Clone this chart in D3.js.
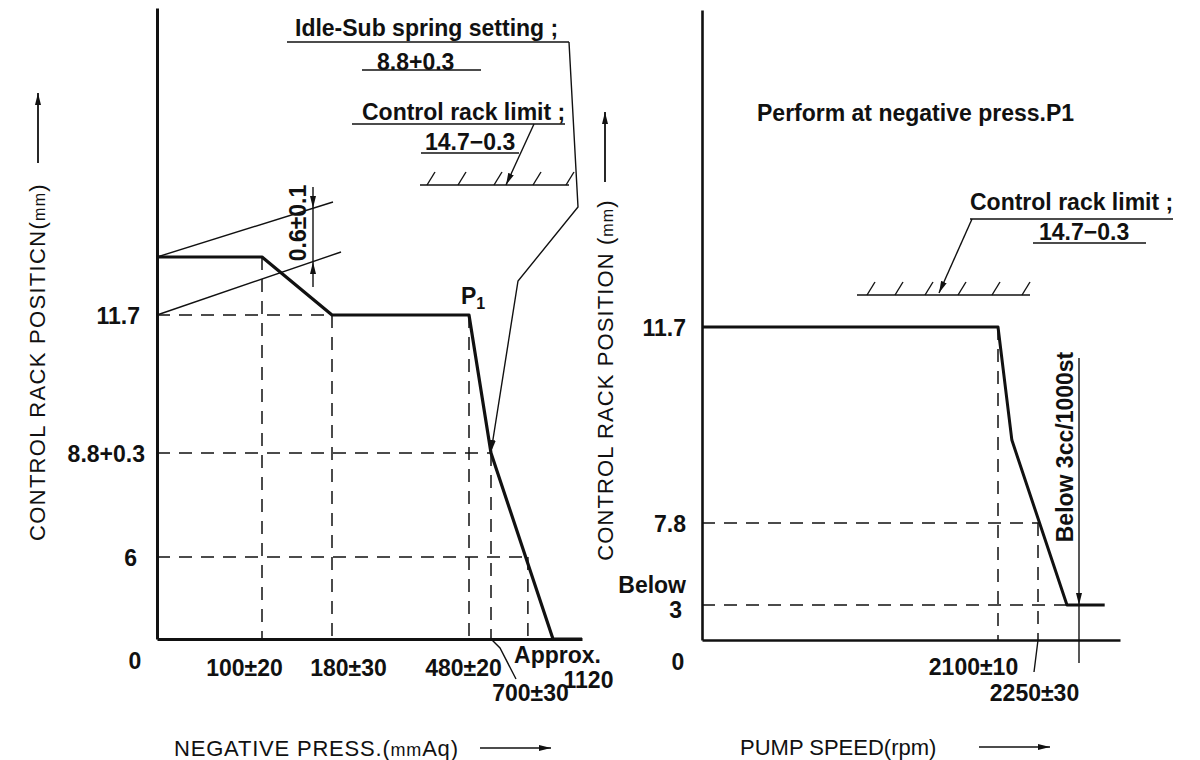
<!DOCTYPE html>
<html><head><meta charset="utf-8">
<script src="https://cdn.jsdelivr.net/npm/d3@7"></script>
<style>
html,body{margin:0;padding:0;background:#fff;}
svg{display:block;}
text{font-family:"Liberation Sans",Arial,sans-serif;fill:#111;}
.lbl{font-size:23px;font-weight:bold;}
.ttl{font-size:22px;}
</style></head><body>
<svg id="c" width="1200" height="760"></svg>
<script>
// ---------- DATA ----------
// Left chart: control rack position (mm) vs negative pressure (mmAq)
const leftX = [0, 100, 180, 480, 700, 1120, 1250];
const leftY = [12.3, 12.3, 11.7, 11.7, 8.8, 0, 0];
const leftXTicks = [100, 180, 480, 700, 1120];
const leftXTickLabels = ["100±20", "180±30", "480±20", "700±30", "Approx.|1120"];
const leftYTicks = [11.7, 8.8, 6];
const leftYTickLabels = ["11.7", "8.8+0.3", "6"];
const leftX6 = 950;          // pressure where rack reaches 6 mm
// Right chart: control rack position (mm) vs pump speed (rpm)
const rightX = [0, 2100, 2152, 2303, 2372];
const rightY = [11.7, 11.7, 9.45, 3, 3];
const rightXTicks = [2100, 2250];
const rightXTickLabels = ["2100±10", "2250±30"];
const rightYTicks = [11.7, 7.8, 3];
const rightYTickLabels = ["11.7", "7.8", "Below|3"];
const rightCutX = 2325;      // "Below 3cc/1000st" speed

// ---------- LAYOUT ----------
const svg = d3.select("#c");
const defs = svg.append("defs");
defs.append("marker").attr("id","ah").attr("viewBox","0 -4 12 8").attr("refX",12).attr("refY",0)
  .attr("markerWidth",12).attr("markerHeight",8).attr("markerUnits","userSpaceOnUse").attr("orient","auto")
  .append("path").attr("d","M0,-3L12,0L0,3Z").attr("fill","#111");

// schematic (non-proportional) axes as piecewise-linear scales
const xL = d3.scaleLinear().domain([0,100,180,480,700,1120,1250]).range([157,262,332,469,491,553,582]);
const yL = d3.scaleLinear().domain([0,6,8.8,11.7,12.3,17.6]).range([639,557,453,315,257,8]);
const xR = d3.scaleLinear().domain([0,2100,2250,2400]).range([702,998,1038,1120]);
const yR = d3.scaleLinear().domain([0,3,7.8,11.7,17]).range([640,605,523,327,10]);

function styleAxis(g, w){
  g.select(".domain").attr("stroke","#111").attr("stroke-width",w);
  g.selectAll(".tick line").remove();
  g.selectAll(".tick text").attr("class","lbl").attr("fill","#111");
}
function multi(textSel, parts, pos){
  textSel.text(null);
  parts.forEach((p,i)=>textSel.append("tspan").attr("x",pos[i][0]).attr("y",pos[i][1]).attr("dy","0.35em").text(p));
}

// ---- Left axes ----
const gLy = svg.append("g").attr("transform",`translate(${xL(0)},0)`)
  .call(d3.axisLeft(yL).tickValues(leftYTicks).tickFormat((d,i)=>leftYTickLabels[i]).tickSize(0).tickSizeOuter(0));
styleAxis(gLy,3);
const lyOff = [-17,-12,-20];
gLy.selectAll(".tick text").attr("x",(d,i)=>lyOff[i]).attr("dy","0.35em").attr("text-anchor","end");

const gLx = svg.append("g").attr("transform",`translate(0,${yL(0)})`)
  .call(d3.axisBottom(xL).tickValues(leftXTicks).tickFormat((d,i)=>leftXTickLabels[i]).tickSize(0).tickSizeOuter(0));
styleAxis(gLx,3);
const lxOff = [[-18,29],[16,29],[-6,29],[39,54]];
gLx.selectAll(".tick text").each(function(d,i){
  const t = d3.select(this).attr("text-anchor","middle");
  if(i<4){ t.attr("x",lxOff[i][0]).attr("y",lxOff[i][1]).attr("dy","0.35em"); }
  else { const p = leftXTickLabels[i].split("|"); multi(t,p,[[4,16],[35,41]]); }
});
svg.append("text").attr("class","lbl").attr("x",xL(0)-22).attr("y",yL(0)+22).attr("dy","0.35em").attr("text-anchor","middle").text("0");

// ---- Right axes ----
const gRy = svg.append("g").attr("transform",`translate(${xR(0)},0)`)
  .call(d3.axisLeft(yR).tickValues(rightYTicks).tickFormat((d,i)=>rightYTickLabels[i]).tickSize(0).tickSizeOuter(0));
styleAxis(gRy,2.6);
gRy.selectAll(".tick text").each(function(d,i){
  const t = d3.select(this).attr("text-anchor","end");
  if(i<2){ t.attr("x",-16).attr("dy","0.35em"); }
  else { t.attr("font-size","21px"); multi(t, rightYTickLabels[i].split("|"), [[-16,-21],[-20,4]]); }
});
const gRx = svg.append("g").attr("transform",`translate(0,${yR(0)})`)
  .call(d3.axisBottom(xR).tickValues(rightXTicks).tickFormat((d,i)=>rightXTickLabels[i]).tickSize(0).tickSizeOuter(0));
styleAxis(gRx,2.6);
const rxOff = [[-25,27],[-4,53]];
gRx.selectAll(".tick text").attr("text-anchor","middle").attr("x",(d,i)=>rxOff[i][0]).attr("y",(d,i)=>rxOff[i][1]).attr("dy","0.35em");
svg.append("text").attr("class","lbl").attr("x",xR(0)-24).attr("y",yR(0)+22).attr("dy","0.35em").attr("text-anchor","middle").text("0");

// ---- dashed guides ----
const dash = "13,9";
function guide(x1,y1,x2,y2){
  svg.append("line").attr("x1",x1).attr("y1",y1).attr("x2",x2).attr("y2",y2)
    .attr("stroke","#111").attr("stroke-width",1.5).attr("stroke-dasharray",dash);
}
[[leftX[1],leftY[1]],[leftX[2],leftY[2]],[leftX[3],leftY[3]],[leftX[4],leftY[4]],[leftX6,6]].forEach(([x,y])=>guide(xL(x),yL(y),xL(x),yL(0)));
[[leftX[2],leftY[2]],[leftX[4],leftY[4]],[leftX6,6]].forEach(([x,y])=>guide(xL(0),yL(y),xL(x),yL(y)));
guide(xR(2100),yR(11.7),xR(2100),yR(0));
guide(xR(2250),yR(7.8),xR(2250),yR(0));
guide(xR(0),yR(7.8),xR(2250),yR(7.8));
guide(xR(0),yR(3),xR(rightX[3]),yR(3));

// ---- curves ----
const lineL = d3.line().x((d,i)=>xL(leftX[i])).y((d,i)=>yL(leftY[i]));
svg.append("path").attr("d",lineL(leftX)).attr("fill","none").attr("stroke","#111").attr("stroke-width",3.2).attr("stroke-linejoin","round");
const lineR = d3.line().x((d,i)=>xR(rightX[i])).y((d,i)=>yR(rightY[i]));
svg.append("path").attr("d",lineR(rightX)).attr("fill","none").attr("stroke","#111").attr("stroke-width",3).attr("stroke-linejoin","round");

// ---- thin annotation helpers ----
function thin(pts, arrow, w){
  const p = svg.append("path").attr("d",d3.line()(pts)).attr("fill","none").attr("stroke","#111").attr("stroke-width",w||1.4);
  if(arrow) p.attr("marker-end","url(#ah)");
  return p;
}
function txt(x,y,s,cls,anchor){
  return svg.append("text").attr("class",cls||"lbl").attr("x",x).attr("y",y).attr("dy","0.35em").attr("text-anchor",anchor||"start").text(s);
}
function hatch(x1,x2,y,xs){
  thin([[x1,y],[x2,y]],false,1.6);
  xs.forEach(x=>thin([[x,y],[x+8,y-13]],false,1.4));
}

// Left annotations
txt(295,28,"Idle-Sub spring setting ;");
thin([[287,42],[569,42]]);
txt(377,62,"8.8+0.3");
thin([[362,70],[481,70]]);
txt(362,112,"Control rack limit ;");
thin([[352,124],[565,124]]);
txt(425,142,"14.7−0.3");
thin([[421,153],[519,153]]);
thin([[534,124],[506,185]],true);
hatch(420,569,185,[427,458,494,533,566]);
thin([[569,42],[578,207],[518,281],[xL(700),yL(8.8)-1]],true);
// 0.6±0.1 dimension
thin([[xL(0),yL(12.3)],[333,202]]);
thin([[xL(0),yL(11.7)],[341,252]]);
thin([[313,187],[313,208]],true);
thin([[313,287],[313,262]],true);
thin([[313,208],[313,262]]);
svg.append("text").attr("class","lbl").attr("transform","translate(298,223) rotate(-90)").attr("dy","0.35em").attr("text-anchor","middle").text("0.6±0.1");
// P1
const p1 = txt(xL(480)-8,yL(11.7)-19,"P");
p1.append("tspan").attr("font-size","16px").attr("dy","5").text("1");
// 700 leader
thin([[xL(700),yL(0)],[500,648],[516,679]]);

// Right annotations
txt(757,113,"Perform at negative press.P1");
txt(970,202,"Control rack limit ;");
thin([[970,219],[1173,219]]);
txt(1039,232,"14.7−0.3");
thin([[1033,243],[1146,243]]);
thin([[972,219],[939,293]],true);
hatch(857,1030,295,[867,895,925,958,992,1022]);
thin([[xR(rightCutX),358],[xR(rightCutX),yR(3)]],true);
thin([[xR(rightCutX),yR(3)],[xR(rightCutX),663]]);
svg.append("text").attr("class","lbl").attr("transform","translate(1065,447) rotate(-90)").attr("dy","0.35em").attr("text-anchor","middle").text("Below 3cc/1000st");
thin([[xR(2250),yR(0)],[xR(2250)-4,672]]);

// ---- axis titles ----
function mmTitle(sel, before, after, mmSize){
  sel.append("tspan").text(before);
  sel.append("tspan").attr("font-size",mmSize||"16px").text("mm");
  sel.append("tspan").text(after);
}
const tx1 = svg.append("text").attr("class","ttl").attr("x",174).attr("y",748).attr("dy","0.35em").attr("letter-spacing","0.8px");
mmTitle(tx1,"NEGATIVE PRESS.(","Aq)","18px");
thin([[480,748],[551,748]],true);
svg.append("text").attr("class","ttl").attr("x",740).attr("y",747).attr("dy","0.35em").text("PUMP SPEED(rpm)");
thin([[979,747],[1050,747]],true);
const ty1 = svg.append("text").attr("class","ttl").attr("transform","translate(37,362) rotate(-90)").attr("dy","0.35em").attr("text-anchor","middle").attr("font-size","23px").attr("letter-spacing","1.3px");
mmTitle(ty1,"CONTROL RACK POSITICN(",")");
thin([[38,163],[38,93]],true,1.8);
const ty2 = svg.append("text").attr("class","ttl").attr("transform","translate(605,380) rotate(-90)").attr("dy","0.35em").attr("text-anchor","middle").attr("font-size","23px").attr("letter-spacing","1.1px");
mmTitle(ty2,"CONTROL RACK POSITION (",")");
thin([[605,182],[605,112]],true,1.8);
</script>
</body></html>
